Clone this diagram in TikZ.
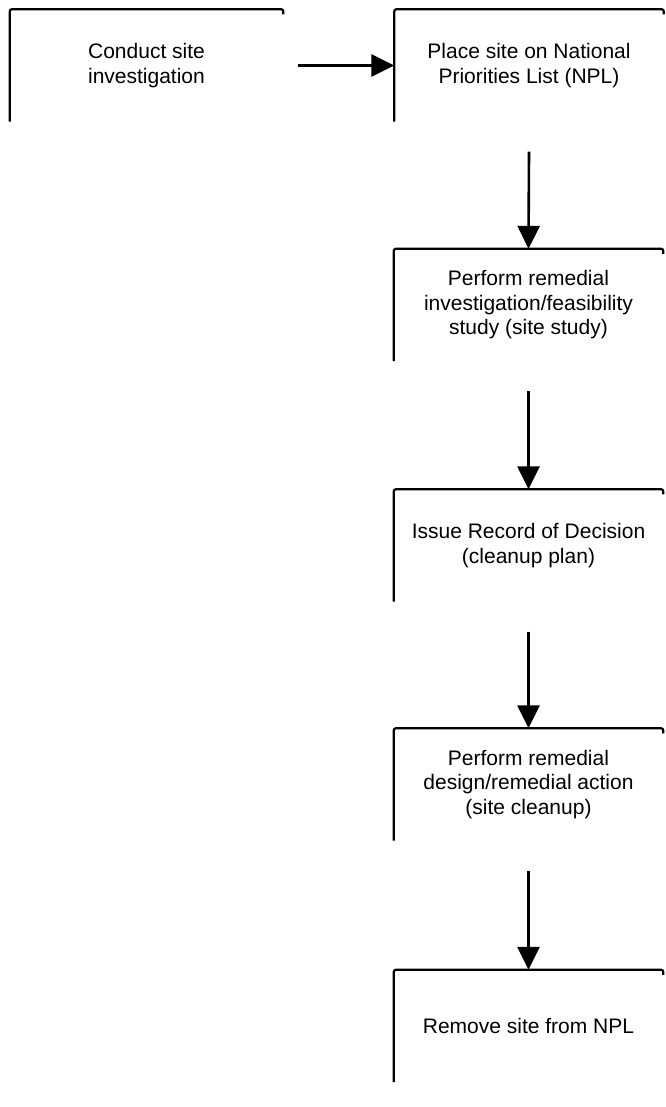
\documentclass[tikz,border=0pt]{standalone}
\usepackage{fontspec}
\setmainfont{Liberation Sans}
\usetikzlibrary{arrows.meta}
\begin{document}
\begin{tikzpicture}[x=1pt,y=-1pt,
  box/.style={minimum width=269pt,minimum height=112pt,inner sep=0pt,align=center,
    font=\fontsize{21}{24.5}\selectfont},
  edge/.style={line width=2.2pt,rounded corners=2pt},
  arr/.style={line width=2.6pt,-{Triangle[length=23pt,width=22pt]}}]
\useasboundingbox (0,0) rectangle (665,1107);
\node[box,minimum width=273pt] (b1) at (146.5,65.5) {Conduct site\\investigation};
\node[box] (b2) at (529,65.5) {Place site on National\\Priorities List (NPL)};
\node[box] (b3) at (528.5,305) {Perform remedial\\investigation/feasibility\\study (site study)};
\node[box] (b4) at (528.5,545.5) {Issue Record of Decision\\(cleanup plan)};
\node[box] (b5) at (528.5,784.5) {Perform remedial\\design/remedial action\\(site cleanup)};
\node[box] (b6) at (528.5,1026) {Remove site from NPL};
\foreach \b in {b1,b2,b3,b4,b5,b6}{
  \draw[edge] (\b.south west) -- (\b.north west) -- (\b.north east) -- ([yshift=-5pt]\b.north east);
}
\draw[arr] ([xshift=15pt]b1.east) -- (b2.west);
\draw[arr] ([yshift=-30pt]b2.south) -- (b3.north);
\draw[arr] ([yshift=-30pt]b3.south) -- (b4.north);
\draw[arr] ([yshift=-30pt]b4.south) -- (b5.north);
\draw[arr] ([yshift=-30pt]b5.south) -- (b6.north);
\end{tikzpicture}
\end{document}
